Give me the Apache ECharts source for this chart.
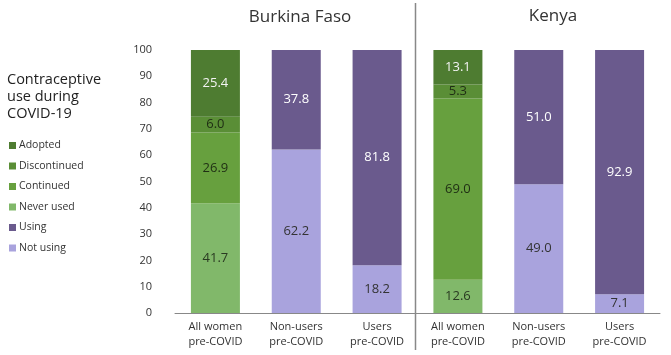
<!DOCTYPE html>
<html><head><meta charset="utf-8">
<script src="https://cdn.jsdelivr.net/npm/echarts@6/dist/echarts.min.js"></script>
<style>html,body{margin:0;padding:0;background:#fff}#c{width:671px;height:355px}</style>
</head><body><div id="c"></div>
<script>
const categories = ['All women\npre-COVID','Non-users\npre-COVID','Users\npre-COVID','All women\npre-COVID','Non-users\npre-COVID','Users\npre-COVID'];
const yTicks = [0,10,20,30,40,50,60,70,80,90,100];
const neverUsed    = [41.7, '-', '-', 12.6, '-', '-'];
const notUsing     = ['-', 62.2, 18.2, '-', 49.0, 7.1];
const continued    = [26.9, '-', '-', 69.0, '-', '-'];
const using        = ['-', 37.8, 81.8, '-', 51.0, 92.9];
const discontinued = [6.0, '-', '-', 5.3, '-', '-'];
const adopted      = [25.4, '-', '-', 13.1, '-', '-'];
const countries = ['Burkina Faso', 'Kenya'];
const legendTitle = 'Contraceptive\nuse during\nCOVID-19';

const FONT = '"Open Sans", "Noto Sans", sans-serif';
function s(name, data, color, labelColor){
  return {name, type:'bar', stack:'t', data, barWidth:49,
    itemStyle:{color},
    label:{show:true, position:'inside', color:labelColor, fontSize:13, fontFamily:FONT,
      formatter:p=>Number(p.value).toFixed(1)}};
}
const chart = echarts.init(document.getElementById('c'));
chart.setOption({
  animation:false,
  textStyle:{fontFamily:FONT},
  grid:{left:175, width:485, top:50, bottom:42},
  title:[
    {text:countries[0], left:295, top:4, textAlign:'center', textStyle:{fontSize:17, fontWeight:'normal', color:'#333', fontFamily:FONT}},
    {text:countries[1], left:548, top:3, textAlign:'center', textStyle:{fontSize:17, fontWeight:'normal', color:'#333', fontFamily:FONT}},
    {text:legendTitle, left:2, top:66, textStyle:{fontSize:14.5, fontWeight:500, color:'#222', lineHeight:17, fontFamily:FONT}}
  ],
  legend:{orient:'vertical', left:4, top:135, itemWidth:7, itemHeight:7, itemGap:9.5,
    icon:'rect', textStyle:{fontSize:10.5, color:'#333', fontFamily:FONT, padding:[0,0,0,-2]},
    data:['Adopted','Discontinued','Continued','Never used','Using','Not using']},
  xAxis:{type:'category', data:categories,
    axisLine:{lineStyle:{color:'#888'}}, axisTick:{show:false},
    axisLabel:{fontSize:11, color:'#333', lineHeight:15, margin:6, fontFamily:FONT}},
  yAxis:{type:'value', min:0, max:100, interval:10,
    axisLabel:{fontSize:11, color:'#333', margin:23, fontFamily:FONT, formatter:v=>yTicks.includes(v)?String(v):''},
    splitLine:{show:false}, axisLine:{show:false}, axisTick:{show:false}},
  graphic:[{type:'line', shape:{x1:415.5, y1:3, x2:415.5, y2:350}, style:{stroke:'#888', lineWidth:1.5}}],
  series:[
    s('Never used', neverUsed, '#81b86a', '#2a3a22'),
    s('Not using', notUsing, '#a9a3dd', '#333'),
    s('Continued', continued, '#67a03e', '#1f2e14'),
    s('Using', using, '#6a5a8d', '#fff'),
    s('Discontinued', discontinued, '#5a8e36', '#1f2e14'),
    s('Adopted', adopted, '#4e7c31', '#f3f3f3')
  ]
});
</script></body></html>
